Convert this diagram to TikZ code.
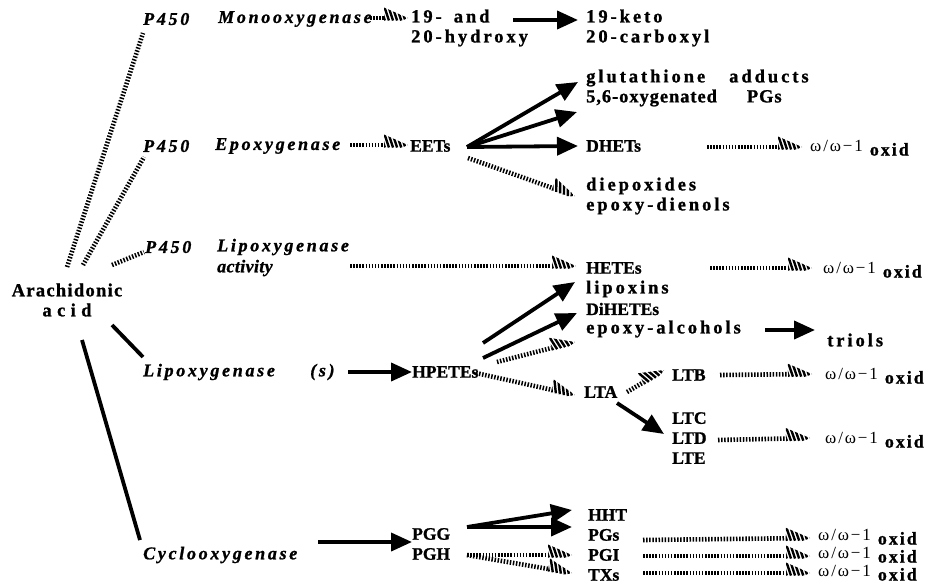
\documentclass[tikz,border=0pt]{standalone}
\usepackage{fontspec}
\setmainfont{Liberation Serif}[BoldFeatures={FakeBold=1.1},BoldItalicFeatures={FakeBold=1.1}]
\usetikzlibrary{arrows.meta,decorations.markings}
\newcommand\hatchhead{%
  \fill[white,solid] (1pt,0) -- (-24pt,10.5pt) -- (-24pt,-10.5pt) -- cycle;
  \begin{scope}
    \clip (0,0) -- (-24pt,10.5pt) -- (-24pt,-10.5pt) -- cycle;
    \foreach \k in {0,...,6}{\draw[solid,line width=2.4pt,line cap=butt] ({(-28+4.1*\k)*1pt},12pt) -- ++(8pt,-24pt);}
  \end{scope}}
\newcommand\lsp[1]{\addfontfeatures{LetterSpace=#1}}
\newcommand\omox{{\mdseries\fontsize{17}{17}\selectfont ω/ω−1}\hspace{7pt}\raisebox{-4pt}{oxid}}
\begin{document}
\begin{tikzpicture}[x=1pt,y=-1pt,
  base/.style={inner sep=0pt, anchor=west},
  sp/.style={base, font=\fontsize{18.5}{20}\selectfont\bfseries\lsp{16}},
  cp/.style={base, font=\fontsize{17.5}{20}\selectfont\bfseries},
  it/.style={base, font=\fontsize{18}{20}\selectfont\bfseries\itshape\lsp{15}},
  itn/.style={base, font=\fontsize{18}{20}\selectfont\bfseries\itshape\lsp{2}},
  om/.style={base, font=\fontsize{18}{20}\selectfont\bfseries\lsp{11}},
  sarrow/.style={line width=3.8pt, -{Triangle[length=21pt,width=18pt]}},
  sline/.style={line width=3.8pt},
  hline/.style={line width=4.6pt, dash pattern=on 1.5pt off 1.6pt},
  harrow/.style={hline, shorten >=10pt, postaction={decorate,decoration={markings,mark=at position 1 with {\hatchhead}}}}
]
\useasboundingbox[fill=white] (0,0) rectangle (933,584);

% ---- text nodes
\node[it] (p1) at (143,19) {P450};
\node[it] (mono) at (218,19) {Monooxygenase};
\node[sp, align=left] (hyd) at (411,28) {19-\hspace{12pt}and\\20-hydroxy};
\node[sp, align=left] (keto) at (586,28) {19-keto\\20-carboxyl};
\node[sp, align=left] (glut) at (586,88) {glutathione\hspace{24pt}adducts\\{\lsp{5}5,6-oxygenated\hspace{30pt}PGs}};
\node[it] (p2) at (143,146) {P450};
\node[it] (epox) at (215,146) {Epoxygenase};
\node[cp] (eets) at (410,146) {EETs};
\node[cp] (dhets) at (586,146) {DHETs};
\node[om] (om1) at (810,148) {\omox};
\node[sp, align=left] (diep) at (586,196) {diepoxides\\epoxy-dienols};
\node[it] (p3) at (145,247) {P450};
\node[it] (lipa) at (217,247) {Lipoxygenase};
\node[itn] (act) at (217,268) {activity};
\node[cp] (hetes) at (586,268) {HETEs};
\node[sp] (lipox) at (586,289) {lipoxins};
\node[cp] (dihetes) at (586,309) {DiHETEs};
\node[sp] (epal) at (586,329) {epoxy-alcohols};
\node[sp] (triols) at (827,340) {triols};
\node[om] (om2) at (823,270) {\omox};
\node[sp, align=center, anchor=center] (aa) at (67,300) {{\lsp{7}Arachidonic}\\{\lsp{29}acid}};
\node[it] (lipo) at (143,372) {Lipoxygenase};
\node[it] (lipos) at (310,372) {(s)};
\node[cp] (hpetes) at (412,372) {HPETEs};
\node[cp] (lta) at (584,392) {LTA};
\node[cp] (ltb) at (672,375) {LTB};
\node[om] (om3) at (825,376) {\omox};
\node[cp, align=left] (ltc) at (672,438) {LTC\\LTD\\LTE};
\node[om] (om4) at (825,440) {\omox};
\node[it] (cox) at (143,555) {Cyclooxygenase};
\node[cp, align=left] (pgg) at (412,544) {PGG\\PGH};
\node[cp, align=left] (hht) at (588,545) {HHT\\PGs\\PGI\\TXs};
\node[om] (om5) at (818,537) {\omox};
\node[om] (om6) at (818,555) {\omox};
\node[om] (om7) at (818,573) {\omox};

% ---- connector end points
\coordinate (aaA) at (67,267);   \coordinate (p1S) at (143,33);
\coordinate (aaB) at (83,265);   \coordinate (p2S) at (144,157);
\coordinate (aaC) at (112,265);  \coordinate (p3S) at (144,252);
\coordinate (aaD) at (112,325);  \coordinate (lipoN) at (143,357);
\coordinate (aaE) at (82,340);   \coordinate (coxN) at (140,540);

\coordinate (monoE) at (370,18); \coordinate (hydW) at (408,18);
\coordinate (hydE) at (513,20);  \coordinate (ketoW) at (578,20);
\coordinate (epoxE) at (350,145); \coordinate (eetsW) at (408,145);
\coordinate (eetsE) at (467,147); \coordinate (eetsSE) at (468,158);
\coordinate (glutW) at (578,82); \coordinate (oxyW) at (577,112);
\coordinate (dhetsW) at (578,146); \coordinate (diepW) at (575,196);
\coordinate (dhetsE) at (707,147); \coordinate (om1W) at (802,147);
\coordinate (actE) at (350,266); \coordinate (hetesW) at (576,266);
\coordinate (hetesE) at (710,268); \coordinate (om2W) at (812,268);
\coordinate (lipoE) at (348,372); \coordinate (hpetesW) at (412,372);
\coordinate (hpA) at (483,343); \coordinate (lipoxW) at (575,282);
\coordinate (hpB) at (483,358); \coordinate (dihW) at (577,313);
\coordinate (hpC) at (497,362); \coordinate (epalW) at (575,342);
\coordinate (hpD) at (476,373); \coordinate (ltaW) at (575,395);
\coordinate (epalE) at (765,330); \coordinate (triolsW) at (815,330);
\coordinate (ltaE) at (627,392); \coordinate (ltbW) at (664,370);
\coordinate (ltbE) at (720,375); \coordinate (om3W) at (812,374);
\coordinate (ltaS) at (617,403); \coordinate (ltcW) at (664,434);
\coordinate (ltdE) at (718,440); \coordinate (om4W) at (810,438);
\coordinate (coxE) at (318,542); \coordinate (pggW) at (412,542);
\coordinate (pggE) at (467,527); \coordinate (hhtW) at (572,510); \coordinate (pgsW) at (572,527);
\coordinate (pghE) at (467,555); \coordinate (pgiW) at (572,555); \coordinate (txsW) at (572,573);
\coordinate (pgsE) at (643,540); \coordinate (om5W) at (810,538);
\coordinate (pgiE) at (643,556); \coordinate (om6W) at (810,556);
\coordinate (txsE) at (643,573); \coordinate (om7W) at (810,573);

% ---- connectors
\draw[hline] (aaA) -- (p1S);
\draw[hline] (aaB) -- (p2S);
\draw[hline] (aaC) -- (p3S);
\draw[sline] (aaD) -- (lipoN);
\draw[sline] (aaE) -- (coxN);

\draw[harrow] (monoE) -- (hydW);
\draw[sarrow] (hydE) -- (ketoW);
\draw[harrow] (epoxE) -- (eetsW);
\draw[sarrow] (eetsE) -- (glutW);
\draw[sarrow] (eetsE) -- (oxyW);
\draw[sarrow] (eetsE) -- (dhetsW);
\draw[harrow] (eetsSE) -- (diepW);
\draw[harrow] (dhetsE) -- (om1W);
\draw[harrow] (actE) -- (hetesW);
\draw[harrow] (hetesE) -- (om2W);
\draw[sarrow] (lipoE) -- (hpetesW);
\draw[sarrow] (hpA) -- (lipoxW);
\draw[sarrow] (hpB) -- (dihW);
\draw[harrow] (hpC) -- (epalW);
\draw[harrow] (hpD) -- (ltaW);
\draw[sarrow] (epalE) -- (triolsW);
\draw[harrow] (ltaE) -- (ltbW);
\draw[harrow] (ltbE) -- (om3W);
\draw[sarrow] (ltaS) -- (ltcW);
\draw[harrow] (ltdE) -- (om4W);
\draw[sarrow] (coxE) -- (pggW);
\draw[sarrow] (pggE) -- (hhtW);
\draw[sarrow] (pggE) -- (pgsW);
\draw[harrow] (pghE) -- (pgiW);
\draw[harrow] (pghE) -- (txsW);
\draw[harrow] (pgsE) -- (om5W);
\draw[harrow] (pgiE) -- (om6W);
\draw[harrow] (txsE) -- (om7W);
\end{tikzpicture}
\end{document}
